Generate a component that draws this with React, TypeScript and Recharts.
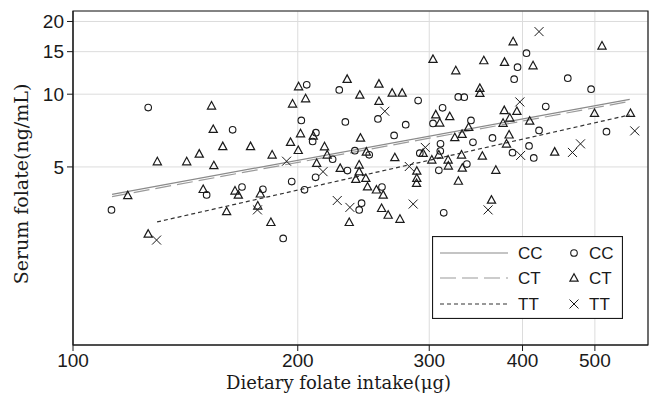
import {
  CartesianGrid,
  Label,
  Legend,
  ReferenceArea,
  Scatter,
  ScatterChart,
  XAxis,
  YAxis,
} from 'recharts'

// dietary folate intake (µg) / serum folate (ng/mL), one pair of arrays per genotype
const ccIntake = [
  112.6, 126.1, 151.0, 168.4, 163.6, 179.6, 191.2, 196.3, 204.2, 202.2, 205.6, 211.5, 209.4, 211.3, 222.7,
  227.3, 231.6, 233.1, 238.5, 249.3, 243.5, 241.7, 259.3, 256.1, 269.2, 279.0, 289.9, 291.4, 310.6, 310.4,
  309.0, 303.5, 312.6, 328.1, 334.2, 341.2, 343.3, 336.9, 364.6, 387.8, 408.1, 414.1, 420.9, 429.7, 389.8,
  393.9, 404.9, 459.9, 494.2, 518.2, 313.7,
]
const ccFolate = [
  3.32, 8.8, 3.83, 4.13, 7.12, 4.04, 2.53, 4.35, 4.02, 7.79, 10.93, 6.93, 6.37, 4.53, 5.38,
  10.42, 7.68, 4.83, 5.84, 5.61, 3.54, 3.32, 4.13, 7.9, 6.75, 7.48, 9.41, 5.7, 6.23, 5.82,
  4.84, 7.57, 8.78, 9.74, 9.72, 7.79, 6.32, 5.14, 6.59, 5.73, 6.11, 5.45, 7.08, 8.89, 11.54,
  12.94, 14.78, 11.65, 10.49, 7.0, 3.23,
]

const ctIntake = [
  118.4, 126.1, 129.7, 142.0, 147.6, 149.4, 153.3, 154.1, 154.4, 158.7, 160.6, 164.8, 166.5, 172.9, 176.8,
  178.2, 184.1, 184.8, 195.6, 196.8, 200.3, 200.5, 201.7, 204.9, 209.8, 212.0, 217.2, 219.0, 228.0, 232.9,
  234.4, 239.2, 241.7, 241.7, 242.2, 242.7, 247.1, 246.7, 248.0, 254.9, 260.3, 256.9, 256.9, 259.0, 264.3,
  274.1, 267.6, 276.0, 269.8, 288.7, 288.7, 288.5, 294.4, 302.4, 303.5, 306.1, 309.9, 309.0, 318.0, 318.2,
  319.6, 325.6, 324.6, 332.0, 331.4, 332.2, 328.2, 350.7, 350.7, 353.4, 355.0, 363.5, 368.4, 376.7, 378.1,
  378.4, 380.7, 383.8, 384.6, 388.6, 393.1, 409.0, 413.2, 441.7, 499.4, 511.1, 558.0, 338.7,
]
const ctFolate = [
  3.81, 2.64, 5.26, 5.26, 5.66, 4.04, 8.95, 7.16, 5.07, 6.08, 3.27, 3.98, 3.83, 6.08, 3.45,
  3.87, 2.95, 5.61, 6.33, 9.12, 5.86, 10.75, 6.87, 9.59, 6.72, 5.18, 6.07, 5.61, 4.94, 11.54,
  2.95, 4.45, 5.1, 4.78, 9.93, 6.59, 5.77, 4.49, 4.14, 4.02, 3.83, 11.03, 9.35, 3.37, 3.16,
  3.04, 10.12, 10.12, 5.47, 4.81, 4.49, 4.28, 5.7, 5.35, 13.96, 8.23, 7.61, 5.61, 5.35, 5.05,
  8.09, 12.52, 6.62, 6.83, 5.61, 4.95, 4.37, 10.59, 10.1, 5.55, 13.78, 3.65, 4.85, 7.59, 8.57,
  13.57, 6.23, 6.79, 7.98, 16.51, 8.5, 7.75, 13.13, 5.77, 8.34, 15.85, 8.34, 7.3,
]

const ttIntake = [
  129.4, 176.6, 193.2, 216.2, 225.9, 234.9, 261.6, 282.1, 285.5, 296.4, 359.7, 396.7, 397.7, 420.9, 466.6,
  478.3, 565.4,
]
const ttFolate = [
  2.49, 3.32, 5.28, 4.78, 3.63, 3.4, 8.5, 5.02, 3.51, 6.02, 3.32, 9.29, 5.58, 18.16, 5.74,
  6.23, 7.05,
]

// regression lines (end points)
const fitCCIntake = [112.8, 556.7]
const fitCCFolate = [3.85, 9.52]
const fitCTIntake = [112.8, 556.7]
const fitCTFolate = [3.77, 9.34]
const fitTTIntake = [129.6, 556.7]
const fitTTFolate = [2.96, 8.21]

const genotypes = ['CC', 'CT', 'TT']
const xTicks = [100, 200, 300, 400, 500]
const yTicks = [5, 10, 15, 20]
const xDomain = [100, 589]
const yDomain = [0.916, 22.1]

const pairs = (xs: number[], ys: number[]) => xs.map((x, i) => ({ x, y: ys[i] }))

const sans = '"Liberation Sans", Arial, sans-serif'
const serif = '"DejaVu Serif", serif'
const ink = '#1a1a1a'

const Circle = ({ cx, cy }: any) => (
  <circle cx={cx} cy={cy} r={3.3} fill="none" stroke={ink} strokeWidth={1.1} />
)
const Triangle = ({ cx, cy }: any) => (
  <polygon
    points={`${cx},${cy - 4.3} ${cx - 4.1},${cy + 3.2} ${cx + 4.1},${cy + 3.2}`}
    fill="none"
    stroke={ink}
    strokeWidth={1.2}
  />
)
const Cross = ({ cx, cy }: any) => (
  <g stroke={ink} strokeWidth={1}>
    <line x1={cx - 4.5} y1={cy - 4.5} x2={cx + 4.5} y2={cy + 4.5} />
    <line x1={cx - 4.5} y1={cy + 4.5} x2={cx + 4.5} y2={cy - 4.5} />
  </g>
)
const NoMark = () => <g />

const lineStyles = [
  { stroke: '#8a8a8a', strokeDasharray: undefined, strokeWidth: 1.2 },
  { stroke: '#9a9a9a', strokeDasharray: '16 6', strokeWidth: 1.2 },
  { stroke: '#333', strokeDasharray: '4 3', strokeWidth: 1.2 },
]
const markers = [Circle, Triangle, Cross]

function LegendBox() {
  const rows = [17, 42, 68]
  return (
    <svg width={191} height={83} style={{ display: 'block' }}>
      <rect x={0.5} y={0.5} width={190} height={82} fill="#fff" stroke={ink} strokeWidth={1.2} />
      {genotypes.map((g, i) => {
        const M = markers[i]
        const s = lineStyles[i]
        return (
          <g key={g}>
            <line x1={8} x2={76} y1={rows[i]} y2={rows[i]} stroke={s.stroke} strokeDasharray={s.strokeDasharray} strokeWidth={s.strokeWidth} />
            <text x={86} y={rows[i] + 6} fontSize={17} fontFamily={sans} fill={ink}>{g}</text>
            <M cx={142} cy={rows[i]} />
            <text x={157} y={rows[i] + 6} fontSize={17} fontFamily={sans} fill={ink}>{g}</text>
          </g>
        )
      })}
    </svg>
  )
}

export default function App() {
  return (
    <div style={{ position: 'absolute', left: 0, top: 0, width: 657, height: 403, background: '#fff' }}>
      <ScatterChart width={657} height={403} margin={{ top: 11, right: 9, bottom: 28, left: 0 }}>
        <CartesianGrid stroke="#dcdcdc" strokeWidth={1} />
        <XAxis
          type="number"
          dataKey="x"
          scale="log"
          domain={xDomain}
          ticks={xTicks}
          allowDataOverflow
          height={30}
          tickSize={6}
          tickMargin={3}
          stroke={ink}
          tick={{ fontSize: 19, fill: ink, fontFamily: sans }}
        >
          <Label
            value="Dietary folate intake(μg)"
            position="bottom"
            offset={1}
            dx={-22}
            style={{ fontSize: 18, fill: ink, fontFamily: serif }}
          />
        </XAxis>
        <YAxis
          type="number"
          dataKey="y"
          scale="log"
          domain={yDomain}
          ticks={yTicks}
          allowDataOverflow
          width={73}
          tickSize={6}
          tickMargin={3}
          stroke={ink}
          tick={{ fontSize: 19, fill: ink, fontFamily: sans }}
        >
          <Label
            content={() => (
              <text
                x={21}
                y={184}
                transform="rotate(-90 21 184)"
                textAnchor="middle"
                dominantBaseline="central"
                fontSize={19}
                fontFamily={serif}
                fill={ink}
              >
                Serum folate(ng/mL)
              </text>
            )}
          />
        </YAxis>
        <ReferenceArea
          x1={xDomain[0]}
          x2={xDomain[1]}
          y1={yDomain[0]}
          y2={yDomain[1]}
          fill="none"
          stroke={ink}
          strokeWidth={1.2}
          ifOverflow="visible"
        />
        <Scatter data={pairs(fitCCIntake, fitCCFolate)} line={lineStyles[0]} shape={NoMark} isAnimationActive={false} />
        <Scatter data={pairs(fitCTIntake, fitCTFolate)} line={lineStyles[1]} shape={NoMark} isAnimationActive={false} />
        <Scatter data={pairs(fitTTIntake, fitTTFolate)} line={lineStyles[2]} shape={NoMark} isAnimationActive={false} />
        <Scatter data={pairs(ccIntake, ccFolate)} shape={Circle} isAnimationActive={false} />
        <Scatter data={pairs(ctIntake, ctFolate)} shape={Triangle} isAnimationActive={false} />
        <Scatter data={pairs(ttIntake, ttFolate)} shape={Cross} isAnimationActive={false} />
        <Legend
          layout="horizontal"
          align="center"
          verticalAlign="middle"
          content={() => <LegendBox />}
          wrapperStyle={{ left: 432, top: 236, width: 191, height: 83, bottom: 'auto' }}
        />
      </ScatterChart>
    </div>
  )
}
